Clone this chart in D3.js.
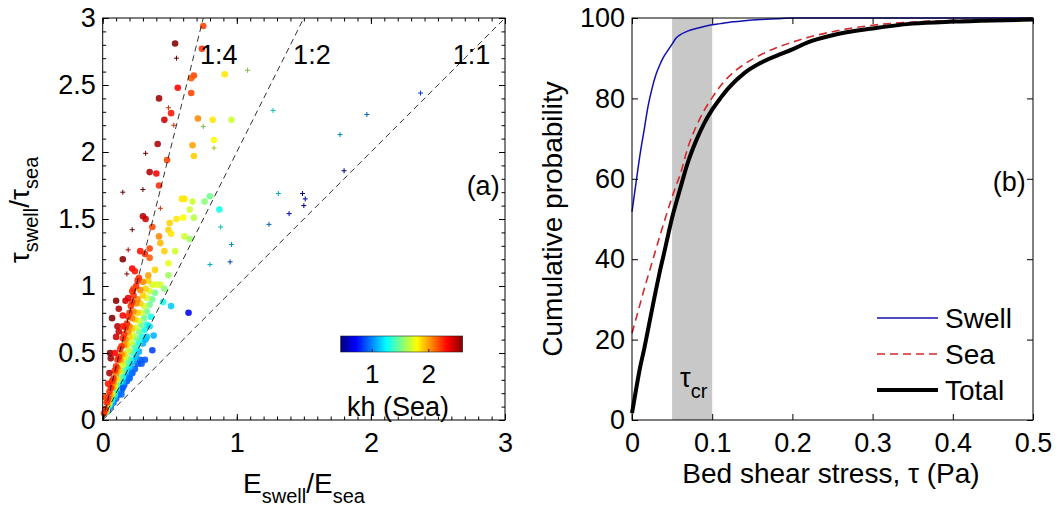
<!DOCTYPE html>
<html>
<head>
<meta charset="utf-8">
<script src="https://cdn.jsdelivr.net/npm/d3@7"></script>
<style>
  body { margin: 0; background: #fff; }
  svg text { font-family: "Liberation Sans", Arial, sans-serif; fill: #000; }
</style>
</head>
<body>
<div id="chart"></div>
<script>
// ---------- panel (a): scatter data ----------
// dense cloud near origin, one row per colour band
const cloudKh = [0.9, 1.1, 1.3, 1.5, 1.7, 1.9, 2.05, 2.25];
const cloudE = [
  [0.04,0.06,0.08,0.10,0.12,0.14,0.16,0.18,0.20,0.22,0.24,0.26,0.28],
  [0.03,0.05,0.07,0.09,0.11,0.13,0.15,0.17,0.19,0.21,0.23,0.25,0.27,0.30,0.32],
  [0.03,0.05,0.07,0.09,0.11,0.13,0.15,0.17,0.19,0.21,0.23,0.25,0.27,0.29,0.31,0.33,0.36],
  [0.03,0.05,0.07,0.09,0.11,0.13,0.15,0.17,0.19,0.21,0.23,0.25,0.27,0.29,0.31,0.33,0.35,0.37,0.39],
  [0.03,0.05,0.07,0.09,0.11,0.13,0.15,0.17,0.19,0.21,0.23,0.25,0.27,0.29,0.31,0.33,0.35,0.37],
  [0.02,0.04,0.06,0.08,0.10,0.12,0.14,0.16,0.18,0.20,0.22,0.24,0.26,0.28,0.30,0.32,0.34],
  [0.02,0.04,0.05,0.07,0.08,0.10,0.11,0.13,0.14,0.16,0.17,0.19,0.20,0.22,0.23,0.25,0.26,0.28,0.30],
  [0.01,0.02,0.03,0.04,0.05,0.06,0.07,0.08,0.09,0.10,0.11,0.12,0.13,0.14,0.15,0.16,0.17,0.18,0.19,0.20,0.21,0.22,0.23,0.25,0.26]
];
const cloudT = [
  [0.07,0.10,0.13,0.16,0.19,0.22,0.26,0.29,0.32,0.35,0.38,0.42,0.45],
  [0.06,0.10,0.13,0.17,0.21,0.25,0.28,0.32,0.36,0.40,0.44,0.47,0.51,0.57,0.60],
  [0.06,0.11,0.15,0.19,0.24,0.28,0.32,0.37,0.41,0.45,0.50,0.54,0.58,0.62,0.67,0.71,0.77],
  [0.07,0.12,0.17,0.22,0.27,0.32,0.37,0.42,0.46,0.51,0.56,0.61,0.66,0.71,0.76,0.81,0.86,0.90,0.95],
  [0.08,0.14,0.19,0.25,0.30,0.36,0.41,0.47,0.52,0.58,0.63,0.69,0.74,0.80,0.85,0.91,0.96,1.01],
  [0.06,0.12,0.19,0.25,0.31,0.37,0.44,0.49,0.56,0.62,0.68,0.75,0.80,0.87,0.93,0.98,1.04],
  [0.07,0.14,0.18,0.24,0.28,0.35,0.39,0.45,0.49,0.56,0.60,0.66,0.70,0.76,0.81,0.87,0.90,0.97,1.03],
  [0.05,0.08,0.13,0.16,0.21,0.24,0.29,0.31,0.37,0.40,0.45,0.47,0.53,0.55,0.61,0.64,0.69,0.72,0.77,0.80,0.85,0.88,0.93,1.00,1.04]
];

// scattered filled circles: E ratio, tau ratio, kh (sea)
const dotE = [0.75,0.54,0.74,0.91,0.68,0.66,0.56,0.66,0.42,0.51,0.46,0.71,0.82,0.96,0.41,0.67,0.83,0.68,0.48,0.35,
              0.40,0.42,0.59,0.61,0.67,0.76,0.80,0.65,0.87,0.30,0.32,0.37,0.42,0.50,0.55,0.60,0.68,0.49,0.51,0.61,
              0.65,0.28,0.315,0.15,0.35,0.35,0.43,0.46,0.49,0.54,0.22,0.24,0.27,0.23,0.22,0.34,0.39,0.40,0.43,0.49,
              0.46,0.45,0.51,0.64,0.10,0.17,0.19,0.12,0.15,0.07,0.11,0.12,0.15,0.10,0.055,0.06,0.09,0.05,0.04,0.02,
              0.37,0.315,0.29,0.22,0.20,0.15,0.14,0.35,0.38,0.33];
const dotT = [2.94,2.81,2.77,2.58,2.57,2.55,2.48,2.44,2.40,2.29,2.24,2.25,2.24,2.24,2.06,2.05,2.09,1.97,1.94,1.85,
              1.84,1.75,1.65,1.65,1.63,1.63,1.67,1.57,1.57,1.52,1.50,1.44,1.37,1.47,1.50,1.51,1.51,1.42,1.39,1.37,
              1.35,1.26,1.24,1.20,1.28,1.21,1.32,1.26,1.17,1.26,1.13,1.11,1.06,0.98,0.96,1.08,1.12,1.01,1.01,1.08,
              0.98,0.88,0.85,0.80,0.89,0.89,0.91,0.83,0.78,0.76,0.70,0.66,0.70,0.62,0.50,0.46,0.50,0.35,0.27,0.17,
              0.52,0.45,0.42,0.35,0.31,0.24,0.19,0.70,0.63,0.62];
const dotK = [2.2,2.6,2.25,1.85,2.2,2.15,2.35,2.2,2.55,2.3,2.45,2.05,1.85,1.7,2.5,2.0,1.8,1.9,2.2,2.5,
              2.35,2.25,1.85,1.85,1.7,1.55,1.5,1.7,1.3,2.5,2.45,2.2,2.05,1.9,1.85,1.8,1.65,1.9,1.85,1.7,
              1.6,2.3,2.25,2.6,2.2,2.15,1.95,1.9,1.75,1.7,2.35,2.3,2.25,2.2,2.25,2.0,1.9,1.75,1.7,1.6,
              1.55,1.3,1.15,0.7,2.6,2.45,2.4,2.5,2.35,2.65,2.5,2.45,2.3,2.45,2.6,2.55,2.35,2.5,2.3,2.2,
              0.85,0.9,0.9,0.95,0.95,0.9,0.95,1.2,1.1,1.15];

// small "+" markers
const plusE = [0.55,1.08,1.27,0.49,0.75,0.53,0.83,0.32,0.15,0.30,0.43,1.31,1.49,1.51,1.50,1.39,2.37,1.97,1.77,1.80,
               1.24,0.96,0.95,0.88,0.80,0.22,0.19,0.18];
const plusT = [2.70,2.61,2.31,2.33,2.19,2.20,2.03,1.99,1.70,1.72,1.58,1.69,1.69,1.65,1.60,1.54,2.44,2.28,2.13,1.86,
               1.46,1.31,1.18,1.44,1.16,1.42,1.27,1.09];
const plusK = [2.6,1.6,1.3,2.2,1.6,2.2,1.7,2.6,2.65,2.6,2.2,1.2,0.6,0.6,0.6,0.7,0.9,1.0,1.1,0.5,
               1.0,1.1,0.9,1.3,1.2,2.6,2.4,2.5];

// reference ratio lines (tau ratio = slope * E ratio)
const refSlopes = [4, 2, 1];
const refLabels = ["1:4", "1:2", "1:1"];
const refLabelE = [0.725, 1.42, 2.61];

const khDomain = [0.45, 2.61];
const khTicks = [1, 2];

// ---------- panel (b): cumulative probability ----------
const tau = [0, 0.005, 0.01, 0.015, 0.02, 0.025, 0.03, 0.035, 0.04, 0.045, 0.05, 0.055, 0.06, 0.07, 0.08,
             0.09, 0.1, 0.11, 0.12, 0.14, 0.16, 0.18, 0.2, 0.22, 0.25, 0.3, 0.35, 0.4, 0.45, 0.5];
const swellCdf = [51.8, 59, 66, 72, 78, 82.5, 86, 88.5, 90.5, 92, 93.5, 95, 95.8, 96.8, 97.4,
                  97.9, 98.3, 98.6, 98.9, 99.3, 99.6, 99.8, 100, 100, 100, 100, 100, 100, 100, 100];
const seaCdf = [21.6, 25.2, 28.8, 32.4, 35.8, 39.2, 42.6, 46, 49.2, 52.4, 55.5, 58.3, 61, 68, 73,
                77, 80.2, 83, 85.3, 88.5, 90.8, 92.6, 94, 95.2, 96.6, 98.2, 99, 99.4, 99.6, 99.7];
const totalCdf = [1.7, 7.5, 13, 17.5, 22.5, 27.5, 32.5, 37.2, 41.5, 46, 50.3, 54, 57.5, 64.3, 69.5,
                  73.8, 77.2, 80, 82.5, 86.3, 88.8, 90.6, 92.2, 94, 95.7, 97.4, 98.6, 99.1, 99.4, 99.6];
const tauCr = [0.05, 0.1];
const seriesNames = ["Swell", "Sea", "Total"];

// ---------- drawing ----------
const svg = d3.select("#chart").append("svg")
  .attr("width", 1059).attr("height", 508);
svg.append("rect").attr("width", 1059).attr("height", 508).attr("fill", "#fff");

function jet(t) {
  t = Math.max(0, Math.min(1, t));
  const c = v => Math.round(255 * Math.max(0, Math.min(1, v)));
  return `rgb(${c(1.5 - Math.abs(4 * t - 3))},${c(1.5 - Math.abs(4 * t - 2))},${c(1.5 - Math.abs(4 * t - 1))})`;
}
const khT = d3.scaleLinear().domain(khDomain).range([0, 1]).clamp(true);
const khColor = k => jet(khT(k));

// draws a MATLAB-style boxed axes with inward ticks
function boxAxes(g, x, y, xMajor, yMajor, xMinor, yMinor, xFmt, yFmt) {
  const [x0, x1] = x.range(), [y0, y1] = y.range();
  const addAxis = (axisFn, scale, vals, fmt, tr, isMinor) => {
    let ax = axisFn(scale).tickValues(vals);
    if (isMinor) ax = ax.tickSize(-3.5).tickFormat("");
    else ax = ax.tickSize(-6).tickPadding(axisFn === d3.axisBottom ? 13 : 7).tickFormat(fmt || "");
    const a = g.append("g").attr("transform", tr).call(ax);
    a.select(".domain").remove();
    a.selectAll("line").attr("stroke", "#000");
    a.selectAll("text").style("font-size", "27px").attr("fill", "#000");
    return a;
  };
  if (xMinor) {
    addAxis(d3.axisBottom, x, xMinor, null, `translate(0,${y0})`, true);
    addAxis(d3.axisTop, x, xMinor, null, `translate(0,${y1})`, true);
  }
  if (yMinor) {
    addAxis(d3.axisLeft, y, yMinor, null, `translate(${x0},0)`, true);
    addAxis(d3.axisRight, y, yMinor, null, `translate(${x1},0)`, true);
  }
  addAxis(d3.axisBottom, x, xMajor, xFmt, `translate(0,${y0})`, false);
  addAxis(d3.axisTop, x, xMajor, null, `translate(0,${y1})`, false);
  addAxis(d3.axisLeft, y, yMajor, yFmt, `translate(${x0},0)`, false);
  addAxis(d3.axisRight, y, yMajor, null, `translate(${x1},0)`, false);
  g.append("rect").attr("x", x0).attr("y", y1).attr("width", x1 - x0).attr("height", y0 - y1)
    .attr("fill", "none").attr("stroke", "#000").attr("stroke-width", 1);
}

// ===== panel (a) =====
const xa = d3.scaleLinear().domain([0, 3]).range([102.7, 505]);
const ya = d3.scaleLinear().domain([0, 3]).range([420, 18]);
const ga = svg.append("g");

const cloudPts = [];
cloudKh.forEach((k, i) => cloudE[i].forEach((e, j) => cloudPts.push({ e, t: cloudT[i][j], k })));
const dotPts = dotE.map((e, i) => ({ e, t: dotT[i], k: dotK[i] }));
const plusPts = plusE.map((e, i) => ({ e, t: plusT[i], k: plusK[i] }));

ga.append("g").selectAll("circle").data(cloudPts.concat(dotPts)).join("circle")
  .attr("cx", d => xa(d.e)).attr("cy", d => ya(d.t)).attr("r", 3.3)
  .attr("fill", d => khColor(d.k)).attr("fill-opacity", 0.88);

ga.append("g").selectAll("path").data(plusPts).join("path")
  .attr("d", d => `M${xa(d.e) - 2.5},${ya(d.t)}h5M${xa(d.e)},${ya(d.t) - 2.5}v5`)
  .attr("stroke", d => d3.color(khColor(d.k)).darker(0.8)).attr("stroke-width", 1);

// ratio lines
ga.append("g").selectAll("line").data(refSlopes).join("line")
  .attr("x1", xa(0)).attr("y1", ya(0))
  .attr("x2", s => xa(Math.min(3, 3 / s))).attr("y2", s => ya(Math.min(3, 3 / s) * s))
  .attr("stroke", "#000").attr("stroke-width", 0.8).attr("stroke-dasharray", "6,4");
ga.append("g").selectAll("text").data(refLabels).join("text")
  .attr("x", (d, i) => xa(refLabelE[i])).attr("y", ya(2.66))
  .style("font-size", "27px").text(d => d);

boxAxes(ga, xa, ya, [0, 1, 2, 3], [0, 0.5, 1, 1.5, 2, 2.5, 3],
  d3.range(0, 3.001, 0.1), d3.range(0, 3.001, 0.1), d3.format("d"), d => String(d));

ga.append("text").attr("x", xa(2.96)).attr("y", ya(1.68)).attr("text-anchor", "end")
  .style("font-size", "27px").text("(a)");

// colorbar
const cb = d3.scaleLinear().domain(khDomain).range([340.7, 462.7]);
const grad = svg.append("defs").append("linearGradient").attr("id", "jetgrad");
[0, 0.125, 0.375, 0.625, 0.875, 1].forEach(t =>
  grad.append("stop").attr("offset", t).attr("stop-color", jet(t)));
ga.append("rect").attr("x", cb(khDomain[0])).attr("y", 336)
  .attr("width", cb(khDomain[1]) - cb(khDomain[0])).attr("height", 16)
  .attr("fill", "url(#jetgrad)").attr("stroke", "#222").attr("stroke-width", 0.6);
const cbAxis = ga.append("g").attr("transform", "translate(0,352)")
  .call(d3.axisBottom(cb).tickValues(khTicks).tickSize(-3).tickPadding(13).tickFormat(d3.format("d")));
cbAxis.select(".domain").remove();
cbAxis.selectAll("line").attr("stroke", "#222");
cbAxis.selectAll("text").style("font-size", "26px").attr("fill", "#000");
ga.append("text").attr("x", 398).attr("y", 416).attr("text-anchor", "middle")
  .style("font-size", "27px").text("kh (Sea)");

// axis labels (a)
const xla = ga.append("text").attr("x", 304).attr("y", 493).attr("text-anchor", "middle")
  .style("font-size", "28px");
xla.append("tspan").text("E");
xla.append("tspan").attr("dy", 10).style("font-size", "20px").text("swell");
xla.append("tspan").attr("dy", -10).text("/E");
xla.append("tspan").attr("dy", 10).style("font-size", "20px").text("sea");

const yla = ga.append("text").attr("transform", "translate(29,210) rotate(-90)")
  .attr("text-anchor", "middle").style("font-size", "28px");
yla.append("tspan").text("τ");
yla.append("tspan").attr("dy", 9).style("font-size", "20px").text("swell");
yla.append("tspan").attr("dy", -9).text("/τ");
yla.append("tspan").attr("dy", 9).style("font-size", "20px").text("sea");

// ===== panel (b) =====
const xb = d3.scaleLinear().domain([0, 0.5]).range([632, 1033]);
const yb = d3.scaleLinear().domain([0, 100]).range([420, 18]);
const gb = svg.append("g");

gb.append("rect").attr("x", xb(tauCr[0])).attr("y", yb(100))
  .attr("width", xb(tauCr[1]) - xb(tauCr[0])).attr("height", yb(0) - yb(100))
  .attr("fill", "#c8c8c8");

const line = vals => d3.line().x((d, i) => xb(tau[i])).y(d => yb(d)).curve(d3.curveMonotoneX)(vals);
const styles = [
  { vals: swellCdf, color: "#1010b0", w: 1.5, dash: null },
  { vals: seaCdf, color: "#d42a2a", w: 1.6, dash: "8,5" },
  { vals: totalCdf, color: "#000", w: 4, dash: null }
];
gb.append("g").selectAll("path").data(styles).join("path")
  .attr("d", s => line(s.vals)).attr("fill", "none")
  .attr("stroke", s => s.color).attr("stroke-width", s => s.w)
  .attr("stroke-dasharray", s => s.dash);

boxAxes(gb, xb, yb, [0, 0.1, 0.2, 0.3, 0.4, 0.5], [0, 20, 40, 60, 80, 100],
  null, null, d => String(d), d3.format("d"));

gb.append("text").attr("x", xb(0.491)).attr("y", yb(57)).attr("text-anchor", "end")
  .style("font-size", "27px").text("(b)");

const tc = gb.append("text").attr("x", xb(0.06)).attr("y", 387).style("font-size", "27px");
tc.append("tspan").text("τ");
tc.append("tspan").attr("dy", 11).style("font-size", "20px").text("cr");

// legend
const lg = gb.append("g").selectAll("g").data(styles).join("g")
  .attr("transform", (d, i) => `translate(0,${318 + i * 36})`);
lg.append("line").attr("x1", 877).attr("x2", 938)
  .attr("stroke", s => s.color).attr("stroke-width", s => s.w).attr("stroke-dasharray", s => s.dash);
lg.append("text").attr("x", 945).attr("dy", "0.35em").style("font-size", "28px")
  .text((d, i) => seriesNames[i]);

// axis labels (b)
gb.append("text").attr("x", 831).attr("y", 483).attr("text-anchor", "middle")
  .style("font-size", "28px").text("Bed shear stress, τ (Pa)");
gb.append("text").attr("transform", "translate(562,219) rotate(-90)").attr("text-anchor", "middle")
  .style("font-size", "28px").text("Cumulative probability");
</script>
</body>
</html>
